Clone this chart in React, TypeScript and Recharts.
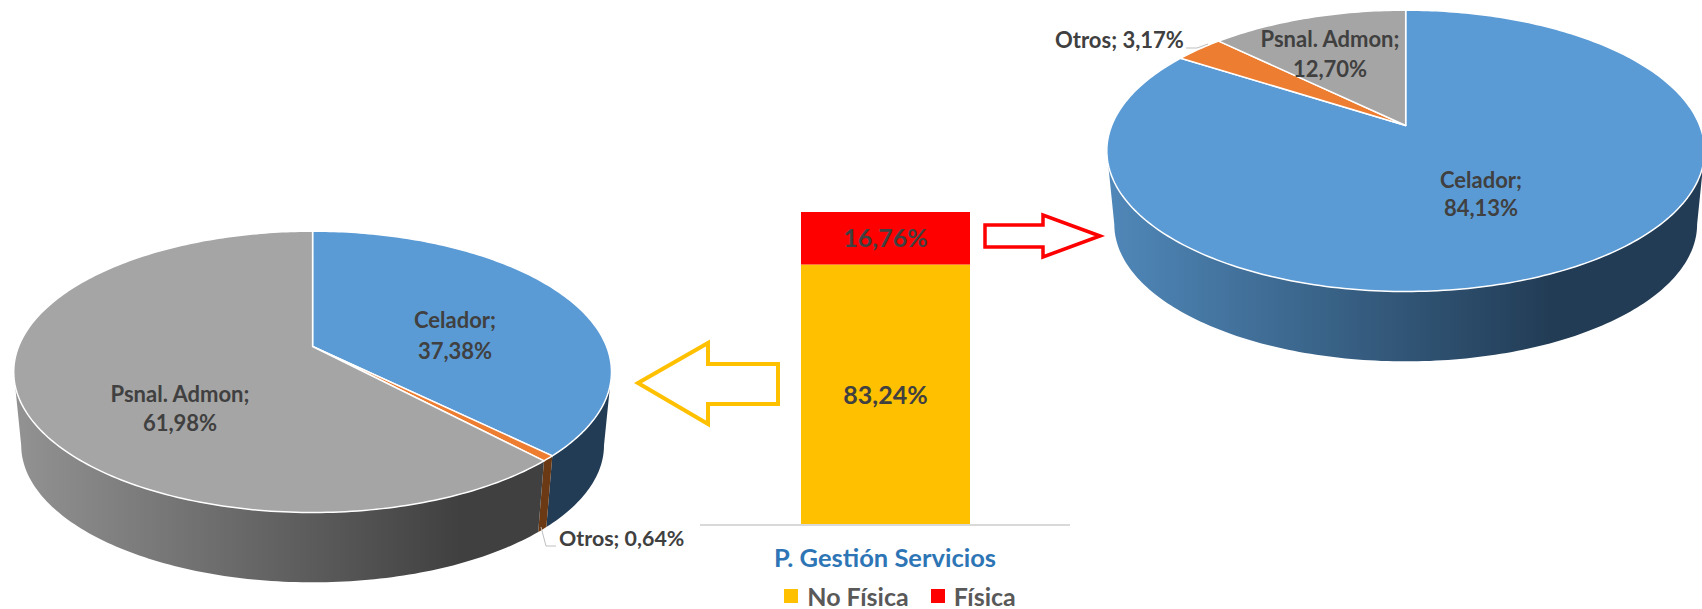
import { BarChart, Bar, XAxis, YAxis, Legend, LabelList, PieChart, Pie, Cell } from 'recharts';

const categories = ['Celador', 'Otros', 'Psnal. Admon'];
const noFisicaShares = [37.38, 0.64, 61.98];
const fisicaShares = [84.13, 3.17, 12.7];

const barCategory = 'P. Gestión Servicios';
const noFisicaTotal = 83.24;
const fisicaTotal = 16.76;

const SLICE_COLORS = ['#5b9bd5', '#ed7d31', '#a5a5a5'];
const WALL_LIGHT = ['#4f87b8', '#6b3a14', '#929292'];
const WALL_DARK = ['#223c55', '#6b3a14', '#404040'];

const FONT = 'Lato, sans-serif';
const TEXT_COLOR = '#404040';

// the perspective of the 3D pies: a flat circle seen from above
const RADIUS = 294;
const TILT = 0.18;
const SQUASH = 0.463;
const WALL_SCALE = 0.975;
const WALL_DROP = 74;

const toPieData = (shares: number[]) => shares.map((value, i) => ({ name: categories[i], value }));
const formatPct = (value: number) => `${value.toFixed(2).replace('.', ',')}%`;

function project(cx: number, cy: number, r: number, deg: number) {
  const rad = (deg * Math.PI) / 180;
  const d = 1 + TILT * Math.sin(rad);
  return { x: cx + (r * Math.cos(rad)) / d, y: cy - (r * SQUASH * Math.sin(rad)) / d };
}

function sampleArc(from: number, to: number) {
  const steps = Math.max(2, Math.ceil(Math.abs(to - from)));
  const out: number[] = [];
  for (let i = 0; i <= steps; i++) out.push(from + ((to - from) * i) / steps);
  return out;
}

// visible wall is the front part of the rim, between the two widest points
const WALL_TO = -(Math.asin(TILT) * 180) / Math.PI;
const WALL_FROM = -180 - WALL_TO;

function makeSlice(pieId: string) {
  return function Slice(props: any) {
    const { cx, cy, outerRadius, startAngle, endAngle, index, name } = props;
    const idx = index ?? categories.indexOf(name);
    const a0 = Math.min(startAngle, endAngle);
    const a1 = Math.max(startAngle, endAngle);
    const top = sampleArc(startAngle, endAngle).map((a) => project(cx, cy, outerRadius, a));
    const topPath = `M${cx},${cy} ` + top.map((p) => `L${p.x},${p.y}`).join(' ') + ' Z';

    const w0 = Math.max(a0, WALL_FROM);
    const w1 = Math.min(a1, WALL_TO);
    let wallPath = '';
    if (w1 > w0) {
      const arc = sampleArc(w0, w1);
      const upper = arc.map((a) => project(cx, cy, outerRadius, a));
      const lower = arc
        .slice()
        .reverse()
        .map((a) => {
          const p = project(cx, cy, outerRadius * WALL_SCALE, a);
          return { x: p.x, y: p.y + WALL_DROP };
        });
      wallPath = 'M' + upper.concat(lower).map((p) => `${p.x},${p.y}`).join(' L') + ' Z';
    }
    const gradId = `${pieId}-wall-${idx}`;
    return (
      <g>
        <defs>
          <linearGradient
            id={gradId}
            gradientUnits="userSpaceOnUse"
            x1={cx - outerRadius}
            x2={cx + outerRadius}
            y1={0}
            y2={0}
          >
            <stop offset="0" stopColor={WALL_LIGHT[idx]} />
            <stop offset="0.75" stopColor={WALL_DARK[idx]} />
            <stop offset="1" stopColor={WALL_DARK[idx]} />
          </linearGradient>
        </defs>
        {wallPath && <path d={wallPath} fill={`url(#${gradId})`} />}
        <path d={topPath} fill={SLICE_COLORS[idx]} stroke="#ffffff" strokeWidth={1.5} strokeLinejoin="round" />
      </g>
    );
  };
}

const labelStyle = { fontFamily: FONT, fontWeight: 700, fontSize: 22, fill: TEXT_COLOR };

function StackedLabel({ x, y1, y2, title, value }: any) {
  return (
    <g>
      <text x={x} y={y1} textAnchor="middle" dominantBaseline="central" {...labelStyle}>{title};</text>
      <text x={x} y={y2} textAnchor="middle" dominantBaseline="central" {...labelStyle}>{value}</text>
    </g>
  );
}

function leftLabel(props: any) {
  const { index, value, name } = props;
  if (index === 0) return <StackedLabel x={455} y1={319} y2={350} title={name} value={formatPct(value)} />;
  if (index === 2) return <StackedLabel x={180} y1={393} y2={422} title={name} value={formatPct(value)} />;
  return (
    <g>
      <polyline points="541,527 546,546 556,546" fill="none" stroke="#bfbfbf" strokeWidth={1} />
      <text x={559} y={538} dominantBaseline="central" {...labelStyle} fontSize={21.4}>{`${name}; ${formatPct(value)}`}</text>
    </g>
  );
}

function rightLabel(props: any) {
  const { index, value, name } = props;
  if (index === 0) return <StackedLabel x={431} y1={179} y2={207} title={name} value={formatPct(value)} />;
  if (index === 2) return <StackedLabel x={280} y1={38} y2={68} title={name} value={formatPct(value)} />;
  return (
    <g>
      <polyline points="136,48 147,48 158,44" fill="none" stroke="#bfbfbf" strokeWidth={1} />
      <text x={5} y={39} dominantBaseline="central" {...labelStyle}>{`${name}; ${formatPct(value)}`}</text>
    </g>
  );
}

function Pie3D({ id, shares, left, width, height, cx, cy, label }: any) {
  const Slice = makeSlice(id);
  return (
    <div style={{ position: 'absolute', left, top: 0 }}>
      <PieChart width={width} height={height} margin={{ top: 0, right: 0, bottom: 0, left: 0 }}>
        <Pie
          data={toPieData(shares)}
          dataKey="value"
          nameKey="name"
          cx={cx}
          cy={cy}
          innerRadius={0}
          outerRadius={RADIUS}
          startAngle={90}
          endAngle={-270}
          stroke="none"
          isAnimationActive={false}
          shape={Slice}
          label={label}
          labelLine={false}
        >
          {shares.map((_: number, i: number) => (
            <Cell key={i} fill={SLICE_COLORS[i]} />
          ))}
        </Pie>
      </PieChart>
    </div>
  );
}

const barData = [{ name: barCategory, noFisica: noFisicaTotal, fisica: fisicaTotal }];

function BarLegend({ payload }: any) {
  return (
    <div style={{ display: 'flex', justifyContent: 'center', gap: 22, height: 26, lineHeight: '26px', paddingLeft: 30, boxSizing: 'border-box' }}>
      {(payload || []).map((item: any) => (
        <div key={item.value} style={{ display: 'flex', alignItems: 'center', gap: 9 }}>
          <span style={{ display: 'block', width: 14, height: 14, background: item.color }} />
          <span style={{ color: '#595959', fontFamily: FONT, fontWeight: 700, fontSize: 25 }}>{item.value}</span>
        </div>
      ))}
    </div>
  );
}

export default function App() {
  return (
    <div style={{ position: 'absolute', left: 0, top: 0, width: 1702, height: 609, overflow: 'hidden', background: '#fff' }}>
      <Pie3D id="left" shares={noFisicaShares} left={0} width={700} height={609} cx={312.6} cy={346.5} label={leftLabel} />
      <Pie3D id="right" shares={fisicaShares} left={1050} width={652} height={400} cx={355.7} cy={125.5} label={rightLabel} />

      <div style={{ position: 'absolute', left: 700, top: 190 }}>
        <BarChart
          width={370}
          height={419}
          data={barData}
          margin={{ top: 22, right: 0, bottom: 0, left: 0 }}
        >
          <YAxis hide domain={[0, 100]} />
          <XAxis
            dataKey="name"
            height={58}
            tickLine={false}
            axisLine={{ stroke: '#d9d9d9', strokeWidth: 2 }}
            tick={{ fill: '#2e75b6', fontFamily: FONT, fontWeight: 700, fontSize: 25.5 }}
            tickMargin={18}
            interval={0}
          />
          <Legend verticalAlign="bottom" align="center" itemSorter={null} content={<BarLegend />} />
          <Bar dataKey="noFisica" name="No Física" stackId="a" fill="#ffc000" barSize={169} isAnimationActive={false}>
            <LabelList
              dataKey="noFisica"
              position="center"
              formatter={(v: number) => formatPct(v)}
              style={{ fill: TEXT_COLOR, fontFamily: FONT, fontWeight: 700, fontSize: 25 }}
            />
          </Bar>
          <Bar dataKey="fisica" name="Física" stackId="a" fill="#ff0000" barSize={169} isAnimationActive={false}>
            <LabelList
              dataKey="fisica"
              position="center"
              formatter={(v: number) => formatPct(v)}
              style={{ fill: TEXT_COLOR, fontFamily: FONT, fontWeight: 700, fontSize: 25 }}
            />
          </Bar>
        </BarChart>
      </div>

      <svg width={1702} height={609} style={{ position: 'absolute', left: 0, top: 0, pointerEvents: 'none' }}>
        <polygon
          points="638,383 708,343 708,364 778,364 778,404 708,404 708,424"
          fill="#fff"
          stroke="#ffc000"
          strokeWidth={4}
        />
        <polygon
          points="1100,236 1043,215 1043,225 985,225 985,247 1043,247 1043,257"
          fill="#fff"
          stroke="#ff0000"
          strokeWidth={3.5}
        />
      </svg>
    </div>
  );
}
